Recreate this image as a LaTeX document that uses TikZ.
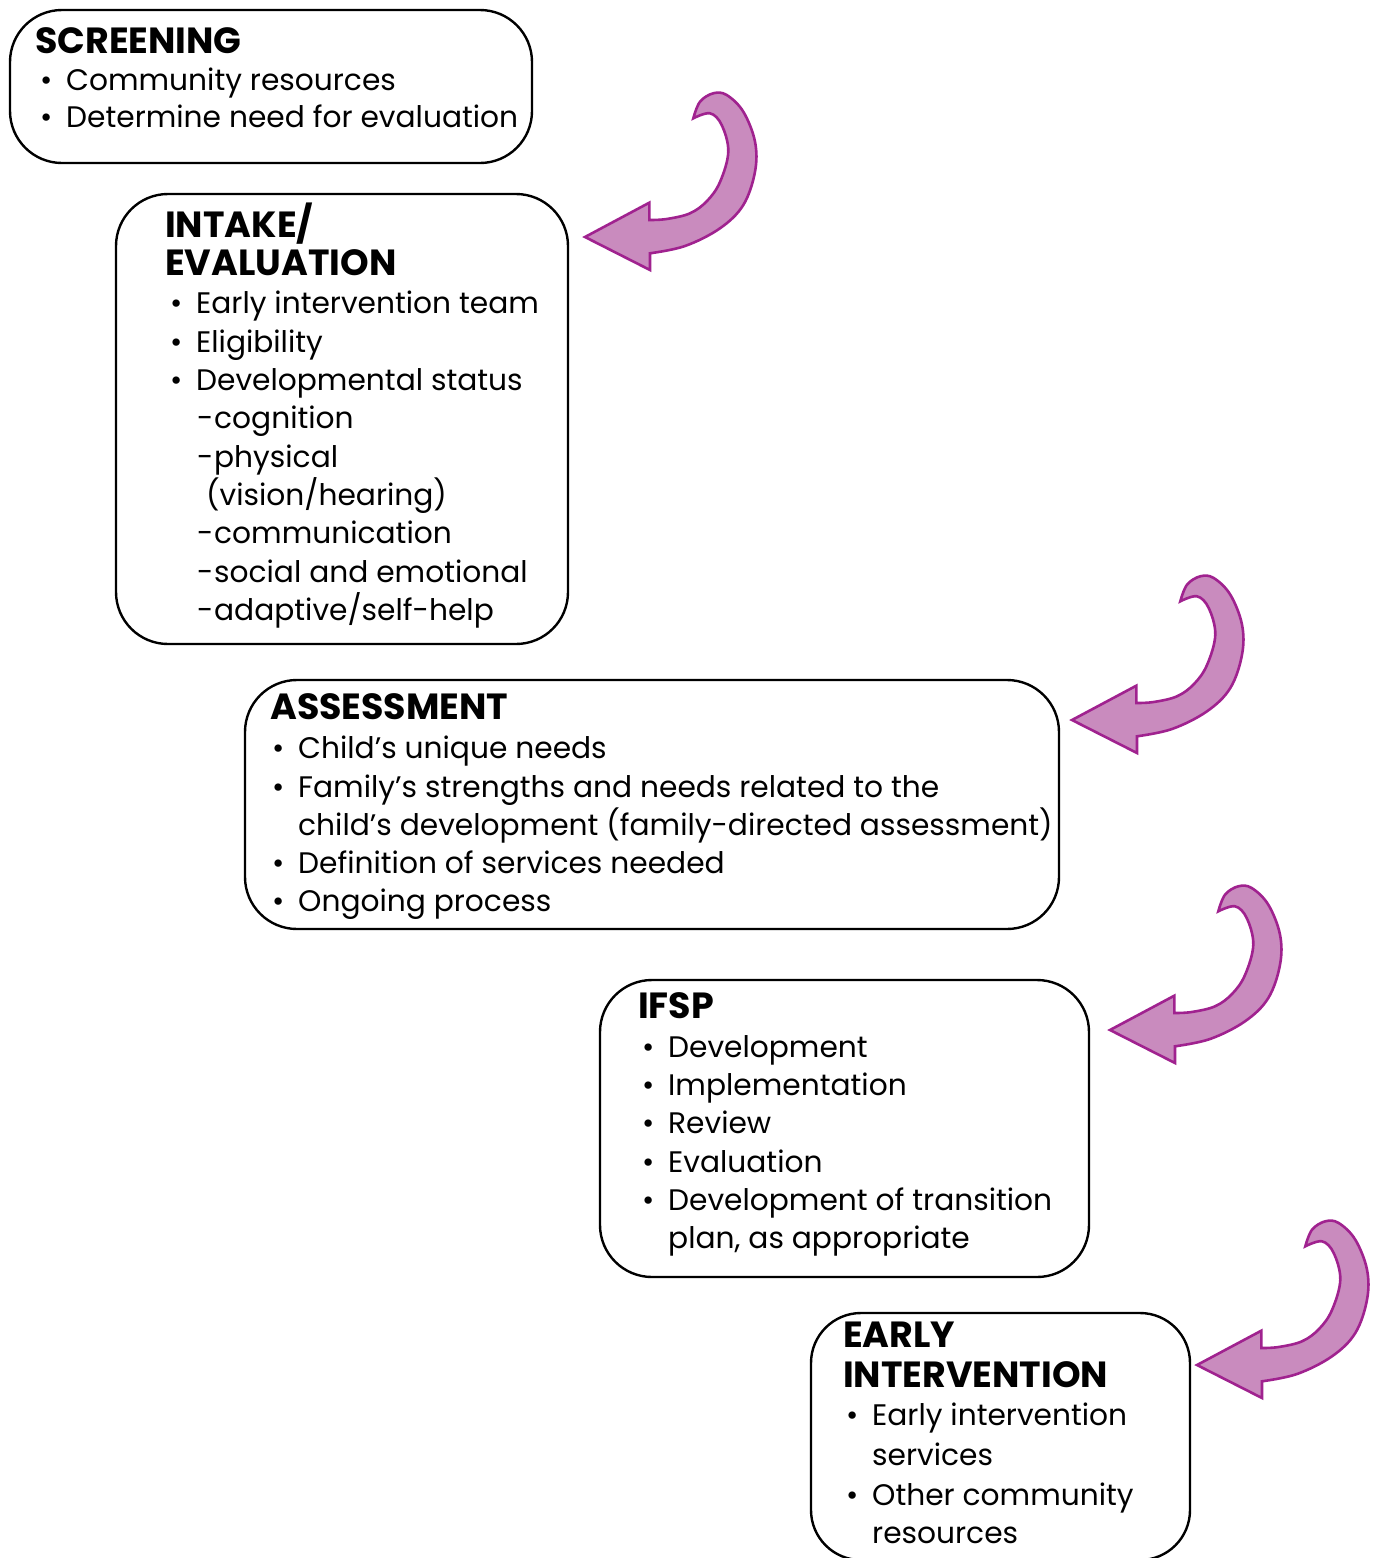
\documentclass[tikz,border=0pt]{standalone}
\usepackage{fontspec}
\setmainfont{Poppins}
\newlength\wbody
\newlength\whead
\definecolor{arrfill}{RGB}{201,139,190}
\definecolor{arrdraw}{RGB}{160,34,143}
\newcommand\bul{\makebox[26pt][l]{\textbullet}}
\newcommand\dsh{\makebox[17pt][l]{-}}
\AtBeginDocument{%
  \settowidth{\wbody}{\fontsize{10pt}{12pt}\selectfont Determine need for evaluation}%
  \settowidth{\whead}{\fontsize{10pt}{12pt}\selectfont\bfseries INTERVENTION}%
  \pgfmathparse{10*452/\wbody}\xdef\bodysize{\pgfmathresult}%
  \pgfmathparse{10*265/\whead}\xdef\headsize{\pgfmathresult}%
}
\begin{document}
\begin{tikzpicture}[x=1pt,y=-1pt,
  box/.style={draw=black, line width=2.4pt, rounded corners=52pt, inner sep=0pt},
  txt/.style={anchor=base west, inner sep=0pt, font=\fontsize{\bodysize pt}{\bodysize pt}\selectfont},
  hd/.style={anchor=base west, inner sep=0pt, font=\fontsize{\headsize pt}{\headsize pt}\selectfont\bfseries},
  bigarr/.style={fill=arrfill, draw=arrdraw, line width=2.6pt, line join=miter}]
\useasboundingbox (0,0) rectangle (1379,1558);
\fill[white] (0,0) rectangle (1379,1558);
\clip (0,0) rectangle (1379,1558);
\newcommand\curlarrow[2]{%
  \begin{scope}[shift={(#1,#2)}]
  \draw[bigarr] (0,0) -- (64.3,-34.3) -- (64.3,-17)
    -- plot[smooth, tension=0.6] coordinates {(64.3,-17) (81.7,-18) (105,-23.7) (122,-36) (135,-55) (143.3,-85.3) (136.7,-112) (125,-123.7) (108.3,-118.7)}
    -- plot[smooth, tension=0.6] coordinates {(108.3,-118.7) (115,-135.3) (128.3,-143.7) (141.7,-142) (158.3,-125.3) (170,-95.3) (170,-65.3) (158.3,-32) (135,-8.7) (100,9) (65,16.3)}
    -- (65,33) -- cycle;
  \end{scope}}

% boxes
\node[box, minimum width=522pt, minimum height=153pt] (screen) at (271,86.5) {};
\node[box, minimum width=452pt, minimum height=450pt] (intake) at (342,419) {};
\node[box, minimum width=814pt, minimum height=249pt] (assess) at (652,804.5) {};
\node[box, minimum width=489pt, minimum height=297pt] (ifsp) at (844.5,1128.5) {};
\node[box, rounded corners=50pt, minimum width=379pt, minimum height=247pt] (early) at (1000.5,1436.5) {};

% arrows
\curlarrow{585}{237}
\curlarrow{1072}{720}
\curlarrow{1110}{1030}
\curlarrow{1197}{1365}

% SCREENING
\node[hd] (scr-h) at (35,53) {SCREENING};
\node[txt] (scr-1) at (40,90) {\bul Community resources};
\node[txt] (scr-2) at (40,127) {\bul Determine need for evaluation};

% INTAKE
\node[hd] (int-h1) at (165,237) {INTAKE/};
\node[hd] (int-h2) at (165,275) {EVALUATION};
\node[txt] (int-1) at (170,313) {\bul Early intervention team};
\node[txt] (int-2) at (170,352) {\bul Eligibility};
\node[txt] (int-3) at (170,390) {\bul Developmental status};
\node[txt] (int-4) at (197,428) {\dsh cognition};
\node[txt] (int-5) at (197,467) {\dsh physical};
\node[txt] (int-6) at (206,505) {(vision/hearing)};
\node[txt] (int-7) at (197,543) {\dsh communication};
\node[txt] (int-8) at (197,582) {\dsh social and emotional};
\node[txt] (int-9) at (197,620) {\dsh adaptive/self-help};

% ASSESSMENT
\node[hd] (ass-h) at (270,719) {ASSESSMENT};
\node[txt] (ass-1) at (272,758) {\bul Child’s unique needs};
\node[txt] (ass-2) at (272,797) {\bul Family’s strengths and needs related to the};
\node[txt] (ass-3) at (298,835) {child’s development (family-directed assessment)};
\node[txt] (ass-4) at (272,873) {\bul Definition of services needed};
\node[txt] (ass-5) at (272,911) {\bul Ongoing process};

% IFSP
\node[hd] (ifsp-h) at (638,1018) {IFSP};
\node[txt] (ifsp-1) at (642,1057) {\bul Development};
\node[txt] (ifsp-2) at (642,1095) {\bul Implementation};
\node[txt] (ifsp-3) at (642,1133) {\bul Review};
\node[txt] (ifsp-4) at (642,1172) {\bul Evaluation};
\node[txt] (ifsp-5) at (642,1210) {\bul Development of transition};
\node[txt] (ifsp-6) at (668,1248) {plan, as appropriate};

% EARLY INTERVENTION
\node[hd] (ei-h1) at (843,1347) {EARLY};
\node[hd] (ei-h2) at (843,1387) {INTERVENTION};
\node[txt] (ei-1) at (846,1425) {\bul Early intervention};
\node[txt] (ei-2) at (872,1465) {services};
\node[txt] (ei-3) at (846,1505) {\bul Other community};
\node[txt] (ei-4) at (872,1543) {resources};
\end{tikzpicture}
\end{document}
